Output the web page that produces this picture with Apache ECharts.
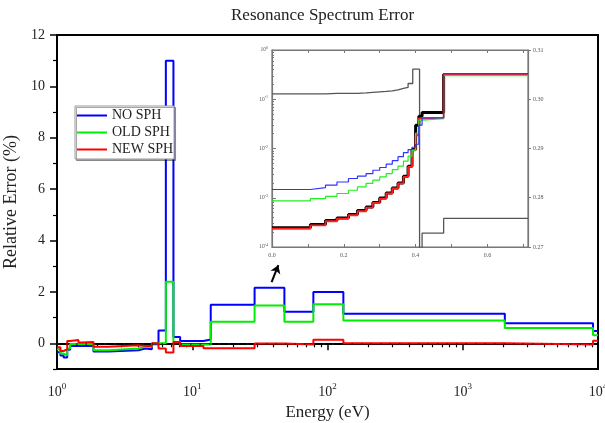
<!DOCTYPE html>
<html><head><meta charset="utf-8">
<script src="https://cdn.jsdelivr.net/npm/echarts@6/dist/echarts.min.js"></script>
<style>html,body{margin:0;padding:0;background:#fff}#c{width:605px;height:423px}</style>
</head><body><div id="c"></div>
<script>
// ---- main chart data (bin edges in eV, one value per bin) ----
const energyEdges = [1.0, 1.06, 1.12, 1.19, 1.25, 1.44, 1.53, 1.86, 2.4, 4.0, 4.49, 5.03, 5.63, 6.38, 7.26, 8.14, 12.1, 13.7, 28.9, 48, 78.6, 131, 2047, 9190, 10000];
const noSph  = [-0.35, -0.47, -0.55, -0.25, -0.1, -0.1, -0.1, -0.32, -0.27, -0.2, -0.23, -0.04, 0.5, 11.0, 0.25, 0.09, 0.15, 1.5, 2.16, 1.23, 2.0, 1.15, 0.78, 0.48];
const oldSph = [-0.23, -0.4, -0.47, -0.2, -0.03, -0.03, -0.03, -0.27, -0.2, -0.13, -0.13, 0.0, 0.0, 2.4, 0.05, -0.05, -0.05, 0.84, 1.47, 0.84, 1.52, 0.89, 0.6, 0.31];
const newSph = [-0.15, -0.3, -0.23, 0.09, 0.13, 0.03, 0.05, -0.13, -0.08, -0.1, -0.1, 0.0, -0.2, -0.36, 0.05, -0.1, -0.19, -0.19, -0.01, -0.05, 0.14, 0.0, -0.05, 0.1];
const seriesNames = ['NO SPH', 'OLD SPH', 'NEW SPH'];
const mainYLabels = [0, 2, 4, 6, 8, 10, 12];
const mainYMinor = [-1, 1, 3, 5, 7, 9, 11];
const mainXLabels = [1, 10, 100, 1000, 10000];
const arrowFrom = [38.6, 2.38];
const arrowTo = [43.3, 3.04];

// ---- inset data ----
const insetEdges = [0, 0.107, 0.149, 0.181, 0.213, 0.238, 0.262, 0.281, 0.300, 0.318, 0.335, 0.351, 0.366, 0.379, 0.390, 0.400, 0.409, 0.418, 0.478, 0.713];
const insetNoSph  = [1.47e-3, 1.61e-3, 1.80e-3, 2.09e-3, 2.46e-3, 2.74e-3, 3.10e-3, 3.62e-3, 4.11e-3, 4.80e-3, 5.65e-3, 6.81e-3, 8.22e-3, 9.46e-3, 0.0106, 0.0122, 0.0298, 0.0419, 0.331];
const insetOldSph = [8.61e-4, 9.64e-4, 1.07e-3, 1.22e-3, 1.42e-3, 1.66e-3, 1.95e-3, 2.27e-3, 2.65e-3, 3.10e-3, 3.74e-3, 4.37e-3, 5.52e-3, 6.97e-3, 9.23e-3, 0.0205, 0.0376, 0.0403, 0.302];
const insetNewSph = [2.37e-4, 2.76e-4, 3.33e-4, 3.78e-4, 4.41e-4, 5.32e-4, 6.33e-4, 7.83e-4, 9.64e-4, 1.22e-3, 1.54e-3, 1.95e-3, 2.65e-3, 4.23e-3, 9.2e-3, 0.0186, 0.0407, 0.0419, 0.319];
const insetRef    = [2.45e-4, 2.85e-4, 3.45e-4, 3.9e-4, 4.55e-4, 5.5e-4, 6.5e-4, 8.0e-4, 9.9e-4, 1.25e-3, 1.58e-3, 2.0e-3, 2.72e-3, 4.35e-3, 9.5e-3, 0.0297, 0.045, 0.054, 0.319];
const grayEdges = [0, 0.107, 0.149, 0.181, 0.213, 0.238, 0.262, 0.281, 0.300, 0.318, 0.335, 0.351, 0.366, 0.379, 0.392, 0.411, 0.418, 0.478, 0.713];
const grayValues = [0.3011, 0.3011, 0.3012, 0.3012, 0.3012, 0.3013, 0.3014, 0.3015, 0.3016, 0.3017, 0.3019, 0.3022, 0.3024, 0.3032, 0.3061, 0.2600, 0.2728, 0.2758];
const insetXLabels = [0, 0.2, 0.4, 0.6];
const insetXTicks = [0, 0.1, 0.2, 0.3, 0.4, 0.5, 0.6, 0.7];
const insetYLabels = [1e-4, 1e-3, 1e-2, 1e-1, 1];
const insetRightLabels = [0.27, 0.28, 0.29, 0.30, 0.31];

function stepData(edges, vals) {
  const d = vals.map((v, i) => [edges[i], v]);
  d.push([edges[edges.length - 1], vals[vals.length - 1]]);
  return d;
}
function logMinor(decades) {
  const out = [];
  decades.forEach(d => { for (let k = 2; k <= 9; k++) out.push(+(k * d).toPrecision(3)); });
  return out;
}
const serif = 'Liberation Serif';
const txt = '#222';
const insetGray = '#777';
const supFmt = v => '{b|10}{s|' + Math.round(Math.log10(v)) + '}';

const chart = echarts.init(document.getElementById('c'), null, {renderer: 'canvas'});
chart.setOption({
  animation: false,
  backgroundColor: '#fff',
  title: {
    text: 'Resonance Spectrum Error', left: 226, top: 2,
    textStyle: {fontFamily: serif, fontSize: 17, fontWeight: 'normal', color: txt}
  },
  legend: {
    data: seriesNames, orient: 'vertical', left: 75, top: 106,
    icon: 'rect', itemWidth: 30, itemHeight: 2, itemGap: 2, itemTextGap: 3,
    padding: [2, 1, 2, 2], backgroundColor: '#fff', borderColor: '#999', borderWidth: 1,
    shadowColor: 'rgba(0,0,0,0.35)', shadowOffsetX: 1.5, shadowOffsetY: 1.5,
    textStyle: {fontFamily: serif, fontSize: 14, color: txt, lineHeight: 15}
  },
  grid: [
    {left: 57, right: 7, top: 35, bottom: 54, show: true, borderColor: '#000', borderWidth: 2,
     outerBoundsMode: 'none', containLabel: false},
    {left: 272, right: 77, top: 50, bottom: 176, show: true, borderColor: insetGray, borderWidth: 1.2,
     outerBoundsMode: 'none', containLabel: false}
  ],
  xAxis: [
    {type: 'log', gridIndex: 0, position: 'bottom', min: 1, max: 10000,
     axisLine: {lineStyle: {color: '#000', width: 2}},
     axisTick: {customValues: mainXLabels, length: 7, lineStyle: {color: '#000', width: 1.5}},
     axisLabel: {customValues: mainXLabels, margin: 13, formatter: supFmt, color: txt,
       rich: {b: {fontFamily: serif, fontSize: 14, lineHeight: 20, color: txt},
              s: {fontFamily: serif, fontSize: 9, verticalAlign: 'top', lineHeight: 10, color: txt}}},
     splitLine: {show: false},
     name: 'Energy (eV)', nameLocation: 'middle', nameGap: 32,
     nameTextStyle: {fontFamily: serif, fontSize: 17, color: txt}},
    {type: 'log', gridIndex: 0, position: 'bottom', min: 1, max: 10000,
     axisLine: {show: false},
     axisTick: {customValues: logMinor([1, 10, 100, 1000]), length: 4, lineStyle: {color: '#000', width: 1.2}},
     axisLabel: {show: false}, splitLine: {show: false}},
    {type: 'value', gridIndex: 1, position: 'bottom', min: 0, max: 0.713,
     axisLine: {lineStyle: {color: insetGray, width: 1.2}},
     axisTick: {customValues: insetXTicks, inside: true, length: 3, lineStyle: {color: insetGray}},
     axisLabel: {customValues: insetXLabels, margin: 5, fontFamily: serif, fontSize: 6, color: '#555',
       formatter: v => v.toFixed(1)},
     splitLine: {show: false}},
    {type: 'value', gridIndex: 1, position: 'top', min: 0, max: 0.713,
     axisLine: {lineStyle: {color: insetGray, width: 1.2}},
     axisTick: {customValues: insetXTicks, inside: true, length: 3, lineStyle: {color: insetGray}},
     axisLabel: {show: false}, splitLine: {show: false}}
  ],
  yAxis: [
    {type: 'value', gridIndex: 0, position: 'left', min: -1, max: 12,
     axisLine: {show: true, lineStyle: {color: '#000', width: 2}},
     axisTick: {show: true, customValues: mainYLabels, length: 7, lineStyle: {color: '#000', width: 1.5}},
     axisLabel: {customValues: mainYLabels, margin: 12, fontFamily: serif, fontSize: 14, color: txt},
     splitLine: {show: false},
     name: 'Relative Error (%)', nameLocation: 'middle', nameGap: 30,
     nameTextStyle: {fontFamily: serif, fontSize: 18, color: txt}},
    {type: 'value', gridIndex: 0, position: 'left', min: -1, max: 12,
     axisLine: {show: false},
     axisTick: {show: true, customValues: mainYMinor, length: 4, lineStyle: {color: '#000', width: 1.2}},
     axisLabel: {show: false}, splitLine: {show: false}},
    {type: 'log', gridIndex: 1, position: 'left', min: 1e-4, max: 1,
     axisLine: {show: true, lineStyle: {color: insetGray, width: 1.2}},
     axisTick: {show: true, customValues: insetYLabels, inside: true, length: 4, lineStyle: {color: insetGray}},
     axisLabel: {customValues: insetYLabels, margin: 4, formatter: supFmt,
       rich: {b: {fontFamily: serif, fontSize: 5.5, lineHeight: 8, color: '#555'},
              s: {fontFamily: serif, fontSize: 4, verticalAlign: 'top', lineHeight: 4, color: '#555'}}},
     splitLine: {show: false}},
    {type: 'log', gridIndex: 1, position: 'left', min: 1e-4, max: 1,
     axisLine: {show: false},
     axisTick: {show: true, customValues: logMinor([1e-4, 1e-3, 1e-2, 1e-1]), inside: true, length: 2, lineStyle: {color: insetGray}},
     axisLabel: {show: false}, splitLine: {show: false}},
    {type: 'value', gridIndex: 1, position: 'right', min: 0.27, max: 0.31,
     axisLine: {show: true, lineStyle: {color: insetGray, width: 1.2}},
     axisTick: {show: true, customValues: insetRightLabels, length: 3, lineStyle: {color: insetGray}},
     axisLabel: {customValues: insetRightLabels, margin: 5, fontFamily: serif, fontSize: 6, color: '#555',
       formatter: v => v.toFixed(2)},
     splitLine: {show: false}}
  ],
  series: [
    {name: 'NO SPH', type: 'line', xAxisIndex: 0, yAxisIndex: 0, step: 'end', showSymbol: false,
     color: '#0000ff', lineStyle: {width: 2}, data: stepData(energyEdges, noSph),
     markLine: {silent: true, symbol: 'none', label: {show: false},
       lineStyle: {color: '#222', width: 1.5, type: [1.5, 8]}, data: [{yAxis: 0}]}},
    {name: 'OLD SPH', type: 'line', xAxisIndex: 0, yAxisIndex: 0, step: 'end', showSymbol: false,
     color: '#00ee00', lineStyle: {width: 2}, data: stepData(energyEdges, oldSph)},
    {name: 'NEW SPH', type: 'line', xAxisIndex: 0, yAxisIndex: 0, step: 'end', showSymbol: false,
     color: '#ff0000', lineStyle: {width: 2}, data: stepData(energyEdges, newSph),
     markLine: {silent: true, symbol: ['none', 'arrow'], symbolSize: 8, label: {show: false},
       lineStyle: {color: '#000', width: 2, type: 'solid'},
       data: [[{coord: arrowFrom}, {coord: arrowTo}]]}},
    {name: 'inset-xs', type: 'line', xAxisIndex: 2, yAxisIndex: 4, step: 'end', showSymbol: false,
     color: '#555', lineStyle: {width: 1.3}, data: stepData(grayEdges, grayValues)},
    {name: 'inset-ref', type: 'line', xAxisIndex: 2, yAxisIndex: 2, step: 'end', showSymbol: false,
     color: '#000', lineStyle: {width: 3}, data: stepData(insetEdges, insetRef)},
    {name: 'inset-new', type: 'line', xAxisIndex: 2, yAxisIndex: 2, step: 'end', showSymbol: false,
     color: '#ff2020', lineStyle: {width: 1.8}, data: stepData(insetEdges, insetNewSph)},
    {name: 'inset-old', type: 'line', xAxisIndex: 2, yAxisIndex: 2, step: 'end', showSymbol: false,
     color: '#22ee22', lineStyle: {width: 1.2}, data: stepData(insetEdges, insetOldSph)},
    {name: 'inset-no', type: 'line', xAxisIndex: 2, yAxisIndex: 2, step: 'end', showSymbol: false,
     color: '#3333ff', lineStyle: {width: 1.2}, data: stepData(insetEdges, insetNoSph)}
  ]
});
</script></body></html>
